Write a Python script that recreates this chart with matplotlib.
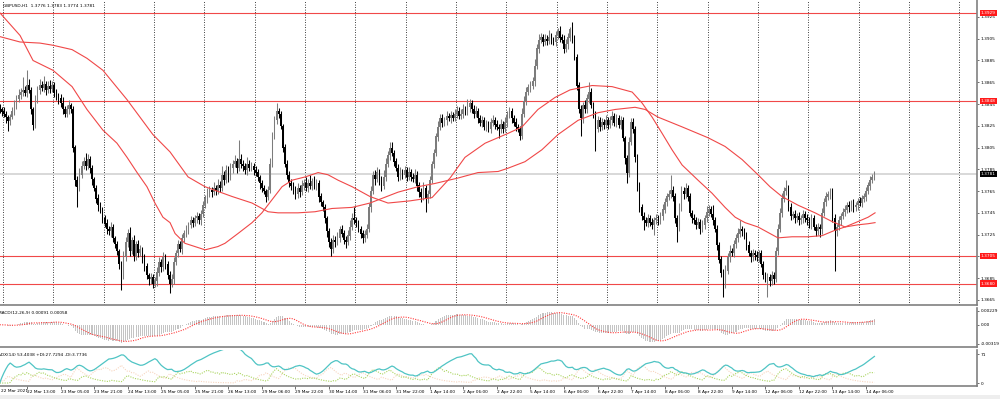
import numpy as np
import pandas as pd
import matplotlib
matplotlib.use("Agg")
import matplotlib.pyplot as plt
from matplotlib.transforms import blended_transform_factory
from matplotlib.patches import Rectangle

# GBPUSD H1 - prices stored as pips above BASE
BASE = 1.3600
first_open = 242

close_pips = [
    240, 238, 236, 233, 229, 233, 238, 244, 250, 253,
    256, 258, 255, 262, 258, 240, 226, 248, 258, 262,
    260, 263, 258, 261, 259, 262, 255, 252, 250, 246,
    240, 236, 240, 244, 240, 205, 175, 169, 180, 188,
    192, 188, 194, 186, 176, 168, 158, 152, 148, 140,
    135, 130, 128, 132, 122, 116, 110, 98, 88, 104,
    118, 126, 110, 120, 105, 116, 108, 112, 104, 96,
    88, 84, 86, 80, 82, 90, 100, 95, 104, 98,
    88, 80, 84, 100, 108, 116, 112, 122, 126, 130,
    134, 138, 136, 140, 142, 138, 144, 152, 158, 163,
    166, 164, 168, 165, 170, 168, 180, 175, 184, 178,
    186, 190, 192, 186, 194, 190, 188, 184, 190, 186,
    188, 184, 182, 178, 172, 168, 165, 160, 166, 190,
    215, 230, 238, 236, 225, 205, 190, 180, 172, 170,
    165, 162, 168, 164, 170, 172, 168, 172, 170, 174,
    170, 172, 160, 155, 150, 140, 128, 118, 112, 120,
    118, 122, 130, 126, 120, 118, 124, 132, 140, 138,
    136, 130, 126, 122, 125, 130, 150, 165, 180, 176,
    182, 175, 170, 178, 190, 198, 204, 200, 192, 186,
    178, 182, 180, 184, 178, 182, 178, 176, 180, 170,
    164, 160, 168, 158, 162, 175, 190, 200, 215, 224,
    232, 228, 230, 234, 232, 235, 232, 236, 238, 234,
    236, 240, 238, 242, 246, 240, 236, 238, 232, 228,
    230, 224, 226, 222, 228, 230, 226, 224, 222, 226,
    222, 228, 235, 238, 232, 228, 224, 222, 216, 236,
    248, 256, 260, 262, 266, 280, 296, 304, 306, 302,
    305, 303, 306, 304, 302, 308, 312, 306, 304, 296,
    300, 306, 314, 305, 288, 262, 240, 232, 244, 240,
    250, 256, 244, 236, 222, 230, 224, 228, 226, 230,
    226, 230, 234, 228, 232, 226, 230, 214, 195, 182,
    210, 228, 222, 196, 170, 150, 142, 138, 136, 140,
    136, 134, 138, 140, 138, 142, 148, 155, 160, 162,
    166, 160, 140, 132, 150, 165, 162, 168, 160, 145,
    140, 138, 134, 136, 130, 134, 140, 146, 148, 144,
    138, 130, 115, 102, 90, 80, 92, 104, 110, 108,
    116, 122, 126, 130, 128, 124, 115, 108, 104, 108,
    106, 104, 108, 98, 88, 84, 86, 82, 88, 84,
    110, 130, 145, 158, 165, 168, 150, 142, 144, 140,
    142, 138, 140, 144, 140, 138, 134, 140, 132, 128,
    132, 130, 145, 155, 160, 162, 165, 140, 128, 132,
    138, 142, 146, 148, 152, 150, 154, 150, 152, 156,
    154, 158, 160, 165, 170, 175, 178, 181,
]

# wick lengths (pips above / below the candle body)
wick_up = [
    3, 2, 4, 3, 2, 3, 4, 5, 3, 6, 4, 12, 4, 14, 6, 3, 2, 5, 4, 6,
    4, 8, 3, 5, 6, 4, 3, 4, 3, 4, 5, 3, 4, 5, 2, 3, 2, 4, 6, 5,
    4, 8, 5, 3, 3, 2, 3, 4, 3, 2, 3, 4, 3, 5, 3, 2, 3, 2, 3, 6,
    5, 4, 6, 3, 5, 3, 4, 3, 2, 3, 3, 2, 4, 3, 4, 5, 4, 3, 5, 3,
    3, 4, 5, 4, 3, 4, 3, 4, 3, 4, 3, 4, 3, 3, 4, 3, 4, 4, 3, 5,
    4, 3, 5, 3, 6, 4, 8, 3, 5, 4, 5, 4, 6, 3, 18, 5, 4, 3, 6, 4,
    4, 3, 4, 3, 2, 3, 3, 2, 4, 5, 4, 4, 8, 3, 3, 2, 3, 4, 3, 4,
    3, 5, 4, 3, 5, 4, 6, 4, 8, 3, 5, 4, 3, 3, 2, 3, 2, 3, 4, 5,
    4, 5, 3, 4, 3, 4, 5, 6, 5, 10, 3, 2, 3, 3, 4, 5, 4, 5, 3, 4,
    5, 3, 4, 6, 5, 4, 6, 6, 3, 3, 4, 5, 3, 4, 3, 5, 3, 4, 5, 3,
    3, 4, 5, 3, 4, 4, 3, 4, 3, 5, 4, 4, 3, 5, 3, 4, 3, 4, 5, 4,
    4, 5, 3, 8, 4, 3, 4, 5, 3, 3, 4, 3, 4, 3, 4, 5, 3, 4, 3, 5,
    3, 5, 4, 4, 3, 3, 4, 3, 3, 5, 4, 5, 3, 4, 4, 6, 4, 5, 4, 3,
    4, 3, 7, 4, 3, 4, 3, 5, 3, 4, 5, 4, 2, 6, 3, 3, 3, 4, 3, 5,
    4, 9, 4, 3, 3, 4, 3, 4, 3, 5, 3, 4, 5, 3, 4, 3, 4, 3, 2, 3,
    5, 4, 4, 3, 3, 3, 3, 4, 3, 4, 3, 4, 3, 4, 3, 4, 5, 4, 3, 4,
    14, 4, 3, 3, 4, 5, 4, 4, 3, 3, 3, 4, 3, 4, 3, 4, 3, 5, 4, 3,
    8, 3, 4, 3, 3, 3, 5, 4, 5, 3, 4, 4, 5, 8, 3, 3, 3, 4, 3, 4,
    3, 4, 3, 3, 3, 3, 4, 3, 4, 3, 4, 5, 4, 5, 4, 7, 3, 4, 3, 4,
    3, 4, 3, 4, 3, 4, 3, 4, 3, 3, 4, 3, 4, 4, 4, 3, 3, 3, 4, 3,
    4, 3, 3, 4, 3, 4, 3, 4, 3, 3, 4, 3, 3, 4, 3, 4, 3, 2,
]
wick_dn = [
    3, 4, 3, 5, 9, 3, 2, 3, 4, 3, 3, 4, 3, 4, 3, 4, 5, 3, 2, 4,
    3, 4, 5, 3, 4, 3, 4, 3, 5, 4, 4, 3, 3, 4, 3, 4, 5, 19, 4, 3,
    3, 4, 3, 4, 5, 3, 4, 5, 3, 4, 3, 4, 3, 5, 4, 3, 4, 5, 14, 4,
    3, 4, 5, 3, 4, 3, 4, 3, 5, 4, 4, 5, 4, 4, 3, 4, 3, 4, 3, 5,
    4, 9, 3, 4, 3, 4, 3, 5, 4, 3, 4, 3, 4, 3, 4, 3, 4, 3, 3, 4,
    3, 4, 3, 4, 3, 4, 3, 4, 3, 5, 3, 4, 3, 4, 3, 4, 5, 3, 4, 3,
    3, 4, 3, 4, 5, 4, 3, 5, 3, 3, 3, 2, 3, 4, 3, 4, 3, 4, 3, 4,
    3, 4, 3, 4, 3, 4, 3, 4, 3, 4, 3, 4, 5, 4, 3, 4, 5, 4, 7, 4,
    4, 3, 4, 3, 4, 5, 3, 4, 3, 3, 4, 3, 4, 5, 4, 3, 3, 4, 3, 5,
    3, 4, 5, 3, 4, 3, 4, 3, 4, 3, 4, 3, 4, 3, 4, 3, 4, 3, 4, 5,
    4, 5, 3, 12, 4, 3, 3, 4, 3, 4, 3, 4, 3, 4, 3, 4, 3, 3, 4, 3,
    3, 4, 3, 3, 4, 3, 4, 3, 4, 3, 4, 3, 4, 3, 4, 3, 4, 3, 8, 4,
    4, 3, 4, 3, 4, 3, 4, 3, 4, 3, 3, 4, 3, 4, 3, 4, 3, 4, 3, 4,
    3, 4, 3, 4, 3, 4, 3, 4, 3, 4, 3, 4, 3, 4, 3, 4, 3, 16, 4, 3,
    3, 4, 3, 4, 20, 3, 4, 3, 4, 3, 4, 3, 4, 3, 4, 3, 4, 3, 5, 10,
    4, 3, 4, 4, 5, 4, 4, 9, 3, 4, 3, 4, 9, 3, 4, 3, 4, 3, 4, 3,
    3, 4, 4, 14, 4, 3, 4, 3, 4, 3, 4, 3, 4, 3, 4, 3, 4, 3, 4, 3,
    4, 3, 4, 3, 4, 12, 4, 3, 4, 3, 4, 3, 4, 3, 4, 3, 4, 3, 4, 3,
    4, 3, 4, 3, 4, 3, 16, 4, 3, 4, 3, 4, 3, 4, 3, 4, 3, 4, 3, 4,
    3, 4, 3, 4, 3, 4, 3, 4, 3, 4, 3, 7, 4, 3, 4, 3, 4, 3, 36, 4,
    3, 4, 3, 4, 3, 4, 3, 4, 3, 4, 3, 4, 3, 4, 3, 4, 3, 3,
]

# the two moving averages (bar index, pips)
ma_a_bar = [0, 9.7, 15.9, 25.4, 34.5, 41.6, 49.2, 55.9, 60.7, 65.5,
            70.2, 74, 77.8, 81.2, 83.6, 88.3, 97.9, 104, 107.4, 113.6,
            120.3, 125, 129.8, 134.6, 139.4, 145.6, 151.8, 156.5, 161.3, 168,
            176.5, 185.1, 195.6, 206.1, 214.7, 221.8, 231.4, 242.3, 249, 256.6,
            264.7, 271.9, 282.4, 291.9, 301.5, 306.2, 311, 315.8, 320.5, 325.3,
            332.9, 339.6, 345.8, 350.6, 355.3, 361.5, 367.2, 371, 377.7, 385.4,
            392, 398.2, 403, 409.2, 414, 417.3]
ma_a_pips = [329, 308, 285, 276, 261, 240, 221, 209, 196, 182,
             169, 154, 141, 136, 126, 117, 111, 114, 117, 126,
             136, 145, 157, 169, 175, 178, 182, 180, 175, 169,
             160, 154, 156, 159, 177, 196, 209, 218, 224, 240,
             251, 258, 262, 261, 256, 246, 233, 218, 203, 189,
             175, 163, 150, 141, 136, 132, 126, 122, 123, 123,
             124, 129, 132, 137, 141, 145]
ma_b_bar = [0, 9.7, 19.2, 25.4, 34.5, 41.6, 49.2, 60.7, 73, 81.2,
            89.8, 97.9, 110.8, 120.3, 127.9, 132.7, 142.2, 150.3, 158.4, 168,
            176.5, 189.9, 199.4, 207.5, 218.5, 228, 237.6, 242.3, 250.4, 258.5,
            266.2, 275.7, 285.2, 293.4, 302.9, 307.7, 313.8, 325.3, 337.7, 345.8,
            353.9, 361.5, 367.2, 372.9, 380.6, 388.7, 396.8, 403, 409.2, 414,
            417.3]
ma_b_pips = [307, 302, 301, 299, 295, 287, 276, 249, 217, 201,
             178, 169, 160, 154, 146, 145, 145, 146, 149, 150,
             154, 164, 169, 172, 177, 182, 183, 186, 192, 203,
             217, 230, 237, 240, 242, 240, 233, 224, 214, 206,
             194, 180, 169, 160, 152, 145, 137, 132, 134, 135,
             136]

levels = [1.3929, 1.3848, 1.3705, 1.3680]
last_price = 1.3781
price_ticks = [1.3925, 1.3905, 1.3885, 1.3865, 1.3845, 1.3825, 1.3805,
               1.3785, 1.3765, 1.3745, 1.3725, 1.3705, 1.3685, 1.3665]
macd_ticks = [0.00229, 0.0, -0.00319]
macd_tick_labels = ["0.00229", "0.00", "-0.00319"]
dmi_ticks = [71, 0]

first_date = "22 Mar 2021"
time_labels = ["22 Mar 13:00", "23 Mar 05:00", "23 Mar 21:00", "24 Mar 13:00",
               "25 Mar 05:00", "25 Mar 21:00", "26 Mar 13:00", "29 Mar 06:00",
               "29 Mar 22:00", "30 Mar 14:00", "31 Mar 06:00", "31 Mar 22:00",
               "1 Apr 14:00", "2 Apr 06:00", "2 Apr 22:00", "5 Apr 14:00",
               "6 Apr 06:00", "6 Apr 22:00", "7 Apr 14:00", "8 Apr 06:00",
               "8 Apr 22:00", "9 Apr 14:00", "12 Apr 06:00", "12 Apr 22:00",
               "13 Apr 14:00", "14 Apr 06:00"]

W, H = 1000, 399
FS = 3.1
RED = "#f04848"


def build_ohlc():
    c = BASE + np.array(close_pips) / 10000
    o = np.concatenate([[BASE + first_open / 10000], c[:-1]])
    hi = np.maximum(o, c) + np.array(wick_up) / 10000
    lo = np.minimum(o, c) - np.array(wick_dn) / 10000
    return o, hi, lo, c


def mt4_adx(hi, lo, cl, period=14):
    n = len(cl)
    p_raw = np.zeros(n)
    m_raw = np.zeros(n)
    for i in range(1, n):
        pdm = max(hi[i] - hi[i - 1], 0)
        mdm = max(lo[i - 1] - lo[i], 0)
        if pdm == mdm:
            pdm = mdm = 0
        elif pdm < mdm:
            pdm = 0
        else:
            mdm = 0
        tr = max(hi[i] - lo[i], abs(hi[i] - cl[i - 1]), abs(lo[i] - cl[i - 1]))
        if tr > 0:
            p_raw[i] = 100 * pdm / tr
            m_raw[i] = 100 * mdm / tr
    pdi = pd.Series(p_raw).ewm(span=period, adjust=False).mean()
    mdi = pd.Series(m_raw).ewm(span=period, adjust=False).mean()
    tot = (pdi + mdi).replace(0, np.nan)
    dx = (100 * (pdi - mdi).abs() / tot).fillna(0)
    adx = dx.ewm(span=period, adjust=False).mean()
    return adx.values, pdi.values, mdi.values


def px_axes(fig, top, bottom):
    # axes placed in pixel rows of the 1000x399 picture
    return fig.add_axes([0, 1 - bottom / H, 977 / W, (bottom - top) / H])


def style_panel(ax):
    for s in ["left", "top"]:
        ax.spines[s].set_visible(False)
    for s in ["right", "bottom"]:
        ax.spines[s].set_color("#808080")
        ax.spines[s].set_linewidth(1.2)
    ax.yaxis.tick_right()
    ax.tick_params(axis="y", length=1.5, width=0.4, pad=1, labelsize=FS, colors="black")
    ax.set_xticks([])
    ax.set_xlim(0.14, 465.9)


def main():
    o, hi, lo, c = build_ohlc()
    n = len(c)
    x = np.arange(n)

    fig = plt.figure(figsize=(W / 100, H / 100), dpi=100)
    fig.patch.set_facecolor("white")
    fig.patches.append(Rectangle((0, 0), 1, 4 / H, transform=fig.transFigure,
                                 facecolor="#eeeeee", edgecolor="none"))

    # ---- main price window ----
    ax = px_axes(fig, 0, 305)
    style_panel(ax)
    ax.set_ylim(1.36603, 1.39406)
    ax.set_yticks(price_ticks)
    ax.set_yticklabels([f"{p:.4f}" for p in price_ticks])

    for k in range(20):
        ax.axvline(1.5 + 24 * k, color="black", lw=0.6, ls=(0, (1, 2)), zorder=1)

    ax.axhline(last_price, color="#d6d6d6", lw=1.3, zorder=1)
    for lv in levels:
        ax.axhline(lv, color=RED, lw=0.8, zorder=2)

    bull = c >= o
    cols = np.where(bull, "#7c7c7c", "#000000")
    ax.vlines(x, lo, hi, colors=cols, lw=0.75, zorder=3)
    ax.bar(x, np.abs(c - o) + 0.00002, bottom=np.minimum(o, c), width=0.8,
           color=cols, linewidth=0, zorder=4)

    ax.plot(ma_a_bar, BASE + np.array(ma_a_pips) / 10000, color=RED, lw=0.8, zorder=5)
    ax.plot(ma_b_bar, BASE + np.array(ma_b_pips) / 10000, color=RED, lw=0.8, zorder=5)

    tr = blended_transform_factory(ax.transAxes, ax.transData)
    for lv in levels:
        ax.text(1.004, lv, f"{lv:.4f}", transform=tr, fontsize=FS, color="white",
                va="center", ha="left", zorder=10, clip_on=False,
                bbox=dict(boxstyle="square,pad=0.25", fc="#ff1a1a", ec="none"))
    ax.text(1.004, last_price, f"{last_price:.4f}", transform=tr, fontsize=FS,
            color="white", va="center", ha="left", zorder=10, clip_on=False,
            bbox=dict(boxstyle="square,pad=0.25", fc="black", ec="none"))

    fig.text(3 / W, 1 - 6 / H, "GBPUSD,H1  1.3776 1.3783 1.3774 1.3781",
             fontsize=FS, va="center", ha="left")

    # ---- MACD(12,26,9) ----
    cs = pd.Series(c)
    macd = cs.ewm(span=12, adjust=False).mean() - cs.ewm(span=26, adjust=False).mean()
    signal = macd.rolling(9, min_periods=1).mean()

    ax2 = px_axes(fig, 308, 347)
    style_panel(ax2)
    ax2.set_ylim(-0.00371, 0.00279)
    ax2.set_yticks(macd_ticks)
    ax2.set_yticklabels(macd_tick_labels)
    ax2.bar(x, macd.values, width=0.5, color="#c4c4c4", linewidth=0)
    ax2.plot(x, signal.values, color="#ff3b3b", lw=0.8, ls=(0, (1, 1.2)))
    ax2.text(-2 / 977, 1 - 5 / 39, "MACD(12,26,9) 0.00091 0.00058",
             transform=ax2.transAxes, fontsize=FS, va="center", ha="left")

    # ---- ADX(14) ----
    adx, pdi, mdi = mt4_adx(hi, lo, c)
    ax3 = px_axes(fig, 350, 386)
    style_panel(ax3)
    ax3.set_ylim(-7.3, 80.8)
    ax3.set_yticks(dmi_ticks)
    ax3.set_yticklabels([str(v) for v in dmi_ticks])
    ax3.plot(x, mdi, color="#f7d5bf", lw=0.8, ls=(0, (1, 1.2)))
    ax3.plot(x, pdi, color="#a9d45e", lw=0.8, ls=(0, (1, 1.2)))
    ax3.plot(x, adx, color="#4fc4c4", lw=0.9)
    ax3.text(-2 / 977, 1 - 5 / 36, "ADX(14) 53.4038 +DI:27.7294 -DI:3.7736",
             transform=ax3.transAxes, fontsize=FS, va="center", ha="left")

    # time scale under the last window
    tpos = [13 + 16 * k for k in range(len(time_labels))]
    ax3.set_xticks(tpos)
    ax3.set_xticklabels(time_labels)
    ax3.tick_params(axis="x", length=2, width=0.4, pad=0.8, labelsize=FS)
    for lbl in ax3.get_xticklabels():
        lbl.set_ha("left")
    fig.text(1 / W, 1 - 391 / H, first_date, fontsize=FS, va="center", ha="left")

    fig.savefig("out.png", dpi=100, facecolor="white")


if __name__ == "__main__":
    main()
